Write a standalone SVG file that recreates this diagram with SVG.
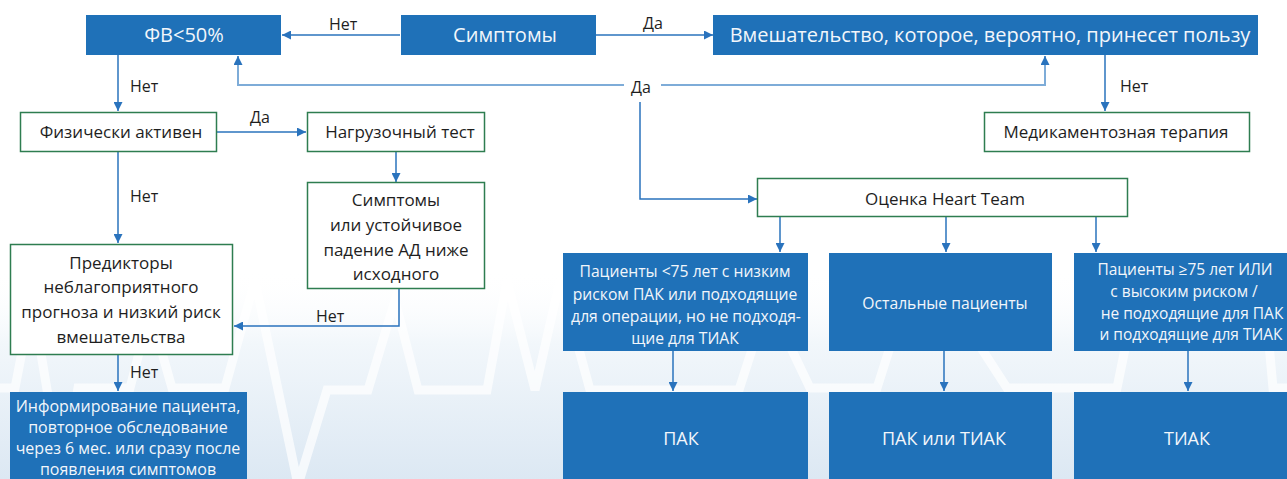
<svg xmlns="http://www.w3.org/2000/svg" width="1287" height="479" viewBox="0 0 1287 479">
<defs>
<linearGradient id="bg" x1="0" y1="0" x2="0" y2="1">
<stop offset="0" stop-color="#ffffff" stop-opacity="0"/>
<stop offset="0.35" stop-color="#f2f7fb"/>
<stop offset="1" stop-color="#dce8f3"/>
</linearGradient>
<marker id="ah" viewBox="0 0 10 10" refX="10" refY="5" markerWidth="9" markerHeight="9" markerUnits="userSpaceOnUse" orient="auto">
<path d="M0,0 L10,5 L0,10 z" fill="#2a73bd"/>
</marker>
<style>
.blue{fill:#1f71b8}
.green{fill:#ffffff;stroke:#2e7d50;stroke-width:1.5}
.wt{font-family:"Open Sans","Noto Sans",sans-serif;fill:#f2f6fb;text-anchor:middle}
.dt{font-family:"Open Sans","Noto Sans",sans-serif;fill:#1e1e1e;text-anchor:middle}
.lbl{font-family:"Open Sans","Noto Sans",sans-serif;fill:#1e1e1e;font-size:16px}
.c{fill:none;stroke:#2a73bd;stroke-width:1.5}
.cl{fill:none;stroke:#7eacd8;stroke-width:2}
.ecg{fill:none;stroke:#ffffff;stroke-width:9;stroke-opacity:0.7;stroke-linejoin:miter}
</style>
</defs>
<rect x="0" y="270" width="1287" height="209" fill="url(#bg)"/>
<polyline class="ecg" points="0,388 15,388 32,300 62,479 78,388 130,388 150,310 172,388 225,388 255,280 298,485 327,390 368,390 395,300 418,390 487,390 507,280 535,390 560,280 590,390 739,390 768,300 810,388 877,388 905,300 950,300 1007,388 1117,388 1135,300 1265,300 1273,388 1287,388"/>

<g id="connectors">
<path class="c" d="M400,35 H282" marker-end="url(#ah)"/>
<path class="c" d="M596,35 H713" marker-end="url(#ah)"/>
<path class="cl" d="M624,85 H238 V58"/>
<path class="c" d="M238,62 V56" marker-end="url(#ah)"/>
<path class="cl" d="M661,85 H1045 V58"/>
<path class="c" d="M1045,62 V56" marker-end="url(#ah)"/>
<path class="c" d="M640,102 V199 H757" marker-end="url(#ah)"/>
<path class="c" d="M118,55 V111" marker-end="url(#ah)"/>
<path class="c" d="M217,132 H306" marker-end="url(#ah)"/>
<path class="c" d="M396,151 V182" marker-end="url(#ah)"/>
<path class="c" d="M399,289 V326 H234" marker-end="url(#ah)"/>
<path class="c" d="M118,151 V243" marker-end="url(#ah)"/>
<path class="c" d="M118,355 V391" marker-end="url(#ah)"/>
<path class="c" d="M1105,55 V111" marker-end="url(#ah)"/>
<path class="c" d="M780,217 V252" marker-end="url(#ah)"/>
<path class="c" d="M946,217 V252" marker-end="url(#ah)"/>
<path class="c" d="M1096,217 V252" marker-end="url(#ah)"/>
<path class="c" d="M673,351 V391" marker-end="url(#ah)"/>
<path class="c" d="M944,351 V391" marker-end="url(#ah)"/>
<path class="c" d="M1188,351 V391" marker-end="url(#ah)"/>
<text class="lbl" x="329" y="30">Нет</text>
<text class="lbl" x="643" y="29">Да</text>
<text class="lbl" x="631" y="93">Да</text>
<text class="lbl" x="130" y="92">Нет</text>
<text class="lbl" x="250" y="123">Да</text>
<text class="lbl" x="316" y="322">Нет</text>
<text class="lbl" x="130" y="202">Нет</text>
<text class="lbl" x="130" y="378">Нет</text>
<text class="lbl" x="1120" y="92">Нет</text>
</g>

<g id="fv"><rect class="blue" x="86" y="15" width="195" height="40"/><text class="wt" x="184" y="42" font-size="20">ФВ&lt;50%</text></g>
<g id="symptoms"><rect class="blue" x="401" y="15" width="195" height="40"/><text class="wt" x="505" y="42" font-size="20">Симптомы</text></g>
<g id="intervention"><rect class="blue" x="713" y="15" width="545" height="40"/><text class="wt" x="990" y="42" font-size="20">Вмешательство, которое, вероятно, принесет пользу</text></g>
<g id="active"><rect class="green" x="20.5" y="112.5" width="196" height="39"/><text class="dt" x="121" y="138" font-size="17">Физически активен</text></g>
<g id="stress"><rect class="green" x="307.5" y="112.5" width="177" height="39"/><text class="dt" x="400" y="138" font-size="17">Нагрузочный тест</text></g>
<g id="medical"><rect class="green" x="984.5" y="112.5" width="265" height="39"/><text class="dt" x="1116" y="138" font-size="17">Медикаментозная терапия</text></g>
<g id="symptoms2"><rect class="green" x="307.5" y="182.5" width="177" height="106"/>
<text class="dt" font-size="17"><tspan x="396" y="206">Симптомы</tspan><tspan x="396" y="231">или устойчивое</tspan><tspan x="396" y="256">падение АД ниже</tspan><tspan x="396" y="280">исходного</tspan></text></g>
<g id="predictors"><rect class="green" x="10.5" y="244.5" width="222" height="110"/>
<text class="dt" font-size="17"><tspan x="121" y="269">Предикторы</tspan><tspan x="121" y="293">неблагоприятного</tspan><tspan x="121" y="318">прогноза и низкий риск</tspan><tspan x="121" y="343">вмешательства</tspan></text></g>
<g id="inform"><rect class="blue" x="10" y="392" width="237" height="90"/>
<text class="wt" font-size="16"><tspan x="128" y="412">Информирование пациента,</tspan><tspan x="128" y="433">повторное обследование</tspan><tspan x="128" y="454">через 6 мес. или сразу после</tspan><tspan x="128" y="475">появления симптомов</tspan></text></g>
<g id="heartteam"><rect class="green" x="757.5" y="178.5" width="370" height="38"/><text class="dt" x="945" y="205" font-size="17">Оценка Heart Team</text></g>
<g id="young"><rect class="blue" x="563" y="253" width="245" height="98"/>
<text class="wt" font-size="15.7"><tspan x="685" y="277">Пациенты &lt;75 лет с низким</tspan><tspan x="685" y="300">риском ПАК или подходящие</tspan><tspan x="686" y="322">для операции, но не подходя-</tspan><tspan x="685" y="344">щие для ТИАК</tspan></text></g>
<g id="others"><rect class="blue" x="829" y="253" width="223" height="98"/><text class="wt" x="945" y="309" font-size="15.7">Остальные пациенты</text></g>
<g id="old"><rect class="blue" x="1074" y="253" width="213" height="98"/>
<text class="wt" font-size="15.5"><tspan x="1185" y="275">Пациенты ≥75 лет ИЛИ</tspan><tspan x="1184" y="297">с высоким риском /</tspan><tspan x="1192" y="319">не подходящие для ПАК</tspan><tspan x="1191" y="340">и подходящие для ТИАК</tspan></text></g>
<g id="sav"><rect class="blue" x="563" y="392" width="245" height="90"/><text class="wt" x="681" y="445" font-size="18">ПАК</text></g>
<g id="savtavi"><rect class="blue" x="829" y="392" width="223" height="90"/><text class="wt" x="944" y="445" font-size="18">ПАК или ТИАК</text></g>
<g id="tavi"><rect class="blue" x="1074" y="392" width="213" height="90"/><text class="wt" x="1187" y="445" font-size="18">ТИАК</text></g>
</svg>
